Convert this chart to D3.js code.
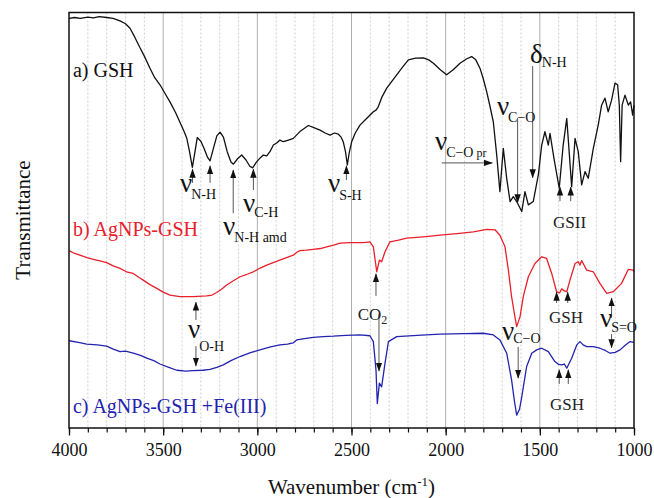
<!DOCTYPE html>
<html>
<head>
<meta charset="utf-8">
<script src="https://cdn.jsdelivr.net/npm/d3@7"></script>
<style>
body { margin: 0; background: #fff; }
svg, svg text { font-family: "Liberation Serif", "DejaVu Serif", "Times New Roman", Times, serif !important; }
</style>
</head>
<body>
<div id="chart"></div>
<script>
// frame
const FRAME_WIDTH = 654;
const FRAME_HEIGHT = 498;
const MARGINS = {left: 69, right: 20, top: 12.5, bottom: 70};
const VIS_WIDTH = FRAME_WIDTH - MARGINS.left - MARGINS.right;
const VIS_HEIGHT = FRAME_HEIGHT - MARGINS.top - MARGINS.bottom;
const FONT = "Liberation Serif, DejaVu Serif, serif";

// axis ticks
const MAJOR_TICKS = [4000, 3500, 3000, 2500, 2000, 1500, 1000];
const MINOR_TICKS = d3.range(1000, 4001, 100);

// spectra: [wavenumber, transmittance (a.u.)]
const GSH = [[4000,98.6],[3970,98.8],[3940,98.6],[3900,98.9],[3870,98.7],[3840,99.0],[3800,98.8],[3766,98.6],[3729,98.0],[3700,97.3],[3676,96.2],[3650,94.0],[3623,91.5],[3600,89.5],[3570,86.6],[3545,84.3],[3517,82.6],[3490,80.5],[3464,78.5],[3435,76.0],[3411,73.6],[3390,71.5],[3375,69.8],[3360,66.5],[3345,62.7],[3331,66.5],[3319,69.9],[3300,69.0],[3285,67.5],[3265,65.2],[3251,64.3],[3235,67.0],[3215,70.3],[3198,71.2],[3180,70.0],[3160,66.5],[3140,64.0],[3127,63.5],[3105,64.8],[3083,65.7],[3060,64.5],[3040,63.0],[3025,62.6],[3005,64.0],[2985,65.0],[2968,65.7],[2950,65.5],[2933,66.5],[2915,68.1],[2897,68.6],[2880,69.3],[2862,68.9],[2835,69.3],[2809,69.7],[2770,71.5],[2729,72.8],[2700,72.3],[2667,71.7],[2640,71.0],[2614,70.5],[2590,71.0],[2570,70.7],[2555,70.0],[2544,68.9],[2532,66.5],[2522,63.3],[2512,66.3],[2499,68.9],[2480,71.0],[2455,72.9],[2420,74.5],[2384,76.1],[2370,76.5],[2358,77.3],[2340,79.5],[2313,81.8],[2285,83.5],[2260,85.0],[2230,86.8],[2198,88.6],[2160,89.0],[2118,89.1],[2090,88.6],[2065,87.8],[2030,86.3],[1995,85.0],[1960,86.2],[1924,87.8],[1890,88.8],[1862,89.4],[1840,88.6],[1818,86.6],[1800,84.0],[1782,80.9],[1765,77.5],[1747,73.7],[1729,65.7],[1712,56.9],[1694,67.3],[1676,60.1],[1658,54.5],[1641,55.7],[1623,54.5],[1596,52.1],[1579,56.9],[1561,53.7],[1535,54.5],[1508,60.9],[1490,68.1],[1473,71.3],[1455,68.1],[1446,70.9],[1425,64.9],[1397,57.7],[1376,68.1],[1357,74.5],[1331,58.1],[1313,69.7],[1296,66.5],[1278,58.5],[1260,61.7],[1243,60.1],[1216,67.3],[1190,72.9],[1172,77.7],[1154,79.4],[1137,76.1],[1119,78.9],[1101,83.0],[1087,82.6],[1078,77.7],[1071,64.1],[1063,77.7],[1048,80.1],[1030,77.7],[1018,78.5],[1007,75.3],[1000,77.7]];

const AGNPS_GSH = [[4000,42.7],[3970,42.0],[3942,41.6],[3905,41.0],[3871,40.6],[3835,40.2],[3800,39.8],[3765,39.0],[3729,38.4],[3695,37.6],[3659,37.2],[3630,36.3],[3606,35.6],[3570,34.5],[3534,33.6],[3500,32.7],[3464,32.0],[3411,31.6],[3340,31.6],[3269,31.8],[3240,32.0],[3216,32.6],[3190,33.4],[3163,34.4],[3125,35.5],[3092,36.4],[3055,37.0],[3021,37.6],[2985,38.5],[2950,39.2],[2915,39.8],[2881,40.4],[2845,41.0],[2809,41.6],[2790,42.3],[2774,42.7],[2740,42.8],[2703,43.0],[2665,43.2],[2632,43.6],[2595,44.0],[2561,44.5],[2508,44.6],[2437,44.6],[2402,44.8],[2384,43.6],[2366,37.6],[2352,40.4],[2340,40.0],[2322,42.4],[2296,44.8],[2250,45.2],[2207,45.7],[2120,46.0],[2030,46.4],[1940,46.8],[1853,47.2],[1782,47.8],[1738,47.7],[1712,46.4],[1685,43.6],[1667,38.0],[1650,31.6],[1635,27.5],[1623,24.4],[1605,26.8],[1588,31.6],[1561,36.4],[1526,39.6],[1490,41.2],[1464,40.8],[1437,37.2],[1411,32.8],[1395,32.5],[1384,33.5],[1370,33.0],[1357,32.8],[1340,35.6],[1313,39.6],[1296,40.0],[1287,39.2],[1278,40.3],[1251,38.0],[1216,37.6],[1181,34.8],[1145,32.4],[1110,32.8],[1066,34.8],[1030,38.2],[1004,38.0],[1000,37.6]];

const AGNPS_GSH_FE = [[4000,21.0],[3950,20.6],[3906,20.2],[3850,20.0],[3800,19.7],[3765,19.0],[3729,18.4],[3700,18.5],[3659,18.0],[3620,17.5],[3587,16.8],[3550,16.2],[3517,15.4],[3470,14.6],[3428,13.9],[3380,13.7],[3340,13.8],[3290,13.9],[3251,14.1],[3215,14.6],[3181,15.2],[3140,16.2],[3092,17.2],[3040,18.1],[2986,18.8],[2930,19.5],[2880,20.0],[2840,20.2],[2809,20.5],[2791,21.2],[2750,21.5],[2703,21.8],[2650,22.0],[2597,22.1],[2530,22.3],[2455,22.4],[2402,22.2],[2384,20.8],[2370,14.0],[2363,5.9],[2352,10.8],[2340,9.9],[2322,15.6],[2304,20.8],[2260,22.0],[2150,22.3],[2030,22.6],[1900,22.7],[1800,22.8],[1747,22.4],[1712,21.2],[1676,18.0],[1650,11.6],[1635,6.5],[1623,3.1],[1608,4.5],[1596,7.5],[1570,14.8],[1543,18.0],[1517,18.8],[1490,19.2],[1455,18.4],[1420,16.0],[1400,15.3],[1384,15.2],[1370,15.4],[1357,14.4],[1331,16.8],[1304,20.0],[1287,20.8],[1270,20.0],[1251,19.6],[1216,19.6],[1181,19.2],[1150,18.6],[1127,18.0],[1100,18.2],[1074,18.8],[1045,20.0],[1021,20.8],[1000,20.6]];

// series names
const SERIES_NAMES = ["a) GSH", "b) AgNPs-GSH", "c) AgNPs-GSH +Fe(III)"];
const SERIES_NAME_T = [84.5, 46.2, 3.6];

// arrows: [wavenumber, T start, wavenumber, T end (head)]
const ARROWS = [
  [3344, 59.0, 3344, 62.3], [3251, 59.0, 3251, 63.1], [3128, 51.7, 3128, 62.1], [3021, 57.3, 3021, 62.3],
  [2527, 59.7, 2527, 63.1], [2021, 63.8, 1752, 63.8], [1618, 74.6, 1618, 54.2], [1538, 87.1, 1538, 60.2],
  [1393, 54.6, 1393, 58.0], [1336, 54.6, 1336, 58.0],
  [3326, 26.0, 3326, 30.3], [3326, 19.7, 3326, 14.9],
  [2370, 31.8, 2370, 37.1], [2354, 27.4, 2354, 13.7],
  [1615, 19.5, 1615, 12.0],
  [1411, 30.1, 1411, 32.7], [1352, 30.1, 1352, 32.7],
  [1119, 26.5, 1119, 31.3], [1119, 22.6, 1119, 19.3],
  [1397, 10.6, 1397, 14.0], [1349, 10.6, 1349, 14.0]
];

// band labels: [symbol, subscript, extra, wavenumber, T, subscript shift]
const BAND_LABELS = [
  ["ν", "N-H", "", 3411, 56.8, 7],
  ["ν", "C-H", "", 3076, 52.0, 5],
  ["ν", "N-H amd", "", 3182, 46.4, 7],
  ["ν", "S-H", "", 2625, 56.8, 8],
  ["ν", "C−O", " pr", 2057, 66.9, 7],
  ["ν", "C−O", "", 1728, 75.3, 7],
  ["δ", "N-H", "", 1552, 87.8, 4],
  ["ν", "O-H", "", 3368, 21.7, 13],
  ["ν", "S=O", "", 1181, 24.3, 5],
  ["ν", "C−O", "", 1701, 21.2, 3]
];

// plain labels: [text, subscript, wavenumber, T]
const PLAIN_LABELS = [
  ["GSII", "", 1430, 48.1],
  ["CO", "2", 2467, 26.0],
  ["GSH", "", 1451, 25.3],
  ["GSH", "", 1446, 4.3]
];

const COLORS = ["#111", "#e8202a", "#2323b0"];

const FRAME = d3.select("#chart")
  .append("svg")
    .attr("width", FRAME_WIDTH)
    .attr("height", FRAME_HEIGHT)
    .attr("font-family", FONT);

const X_SCALE = d3.scaleLinear().domain([4000, 1000]).range([0, VIS_WIDTH]);
const Y_SCALE = d3.scaleLinear().domain([0, 100]).range([VIS_HEIGHT, 0]);

const G = FRAME.append("g")
  .attr("transform", "translate(" + MARGINS.left + "," + MARGINS.top + ")");

// arrow head
FRAME.append("defs").append("marker")
  .attr("id", "head")
  .attr("viewBox", "0 -4 9 8")
  .attr("refX", 8.5).attr("refY", 0)
  .attr("markerWidth", 9).attr("markerHeight", 8)
  .attr("markerUnits", "userSpaceOnUse")
  .attr("orient", "auto")
  .append("path").attr("d", "M0,-3.2L9,0L0,3.2Z").attr("fill", "#111");

// grid
G.selectAll(".minor")
  .data(MINOR_TICKS.filter(d => !MAJOR_TICKS.includes(d)))
  .enter().append("line")
    .attr("x1", d => X_SCALE(d)).attr("x2", d => X_SCALE(d))
    .attr("y1", 0).attr("y2", VIS_HEIGHT)
    .attr("stroke", "#c4c4c4").attr("stroke-width", 0.8)
    .attr("stroke-dasharray", "2,2");

G.selectAll(".major")
  .data(MAJOR_TICKS.slice(1, -1))
  .enter().append("line")
    .attr("x1", d => X_SCALE(d)).attr("x2", d => X_SCALE(d))
    .attr("y1", 0).attr("y2", VIS_HEIGHT)
    .attr("stroke", "#b0b0b0").attr("stroke-width", 1);

// spectra
const LINE = d3.line()
  .x(d => X_SCALE(d[0]))
  .y(d => Y_SCALE(d[1]));

[GSH, AGNPS_GSH, AGNPS_GSH_FE].forEach((s, i) => {
  G.append("path")
    .datum(s)
    .attr("d", LINE)
    .attr("fill", "none")
    .attr("stroke", COLORS[i])
    .attr("stroke-width", 1.3)
    .attr("stroke-linejoin", "round");
});

// arrows
G.selectAll(".arrow")
  .data(ARROWS)
  .enter().append("line")
    .attr("x1", d => X_SCALE(d[0])).attr("y1", d => Y_SCALE(d[1]))
    .attr("x2", d => X_SCALE(d[2])).attr("y2", d => Y_SCALE(d[3]))
    .attr("stroke", "#555").attr("stroke-width", 1)
    .attr("marker-end", "url(#head)");

// band labels
BAND_LABELS.forEach(d => {
  const t = G.append("text")
    .attr("x", X_SCALE(d[3])).attr("y", Y_SCALE(d[4]))
    .attr("fill", "#111");
  t.append("tspan").attr("font-size", 27).text(d[0]);
  t.append("tspan").attr("font-size", 14).attr("dx", -1).attr("dy", d[5]).text(d[1]);
  if (d[2]) t.append("tspan").attr("font-size", 12).text(d[2]);
});

PLAIN_LABELS.forEach(d => {
  const t = G.append("text")
    .attr("x", X_SCALE(d[2])).attr("y", Y_SCALE(d[3]))
    .attr("font-size", 17).attr("fill", "#222");
  t.append("tspan").text(d[0]);
  if (d[1]) t.append("tspan").attr("font-size", 12).attr("dy", 4).text(d[1]);
});

// series names
G.selectAll(".name")
  .data(SERIES_NAMES)
  .enter().append("text")
    .attr("x", X_SCALE(3979)).attr("y", (d, i) => Y_SCALE(SERIES_NAME_T[i]))
    .attr("font-size", 20)
    .attr("fill", (d, i) => COLORS[i])
    .text(d => d);

// x axis with minor ticks
G.append("g")
  .attr("transform", "translate(0," + VIS_HEIGHT + ")")
  .call(d3.axisBottom(X_SCALE).tickValues(MINOR_TICKS).tickSize(4.5).tickFormat(""))
  .call(g => g.select(".domain").remove())
  .selectAll("line").attr("stroke", "#111").attr("stroke-width", 1.2);

const X_AXIS = G.append("g")
  .attr("transform", "translate(0," + VIS_HEIGHT + ")")
  .call(d3.axisBottom(X_SCALE).tickValues(MAJOR_TICKS).tickSize(7.5).tickPadding(8).tickFormat(d3.format("d")))
  .attr("font-family", FONT);
X_AXIS.select(".domain").remove();
X_AXIS.selectAll("line").attr("stroke", "#111").attr("stroke-width", 1.3);
X_AXIS.selectAll("text")
  .attr("font-size", 18)
  .attr("fill", "#111");

// frame box
G.append("rect")
  .attr("width", VIS_WIDTH).attr("height", VIS_HEIGHT)
  .attr("fill", "none").attr("stroke", "#111").attr("stroke-width", 1.5);

// axis titles
const XT = FRAME.append("text")
  .attr("x", MARGINS.left + VIS_WIDTH / 2)
  .attr("y", 494)
  .attr("text-anchor", "middle")
  .attr("font-size", 21)
  .attr("fill", "#111");
XT.append("tspan").text("Wavenumber (cm");
XT.append("tspan").attr("font-size", 13).attr("dy", -8).text("-1");
XT.append("tspan").attr("dy", 8).text(")");

FRAME.append("text")
  .attr("transform", "translate(30,220) rotate(-90)")
  .attr("text-anchor", "middle")
  .attr("font-size", 21)
  .attr("fill", "#111")
  .text("Transmittance");
</script>
</body>
</html>
